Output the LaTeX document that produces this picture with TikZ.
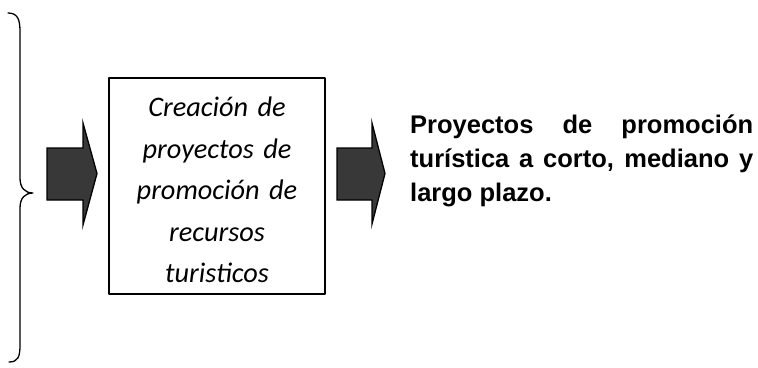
\documentclass[tikz,border=0pt]{standalone}
\usepackage{fontspec}
\newfontfamily\carlito{Carlito}
\newfontfamily\arial{Liberation Sans}
\usetikzlibrary{positioning}

\tikzset{
  blockarrow/.style={draw=black, fill=black!78, line width=1.3pt, line join=miter},
  boxtext/.style={font=\carlito\itshape\fontsize{28.3}{41.5}\selectfont},
  resulttext/.style={font=\arial\bfseries\fontsize{25.5}{34}\selectfont},
}

\begin{document}
\begin{tikzpicture}[x=1pt, y=-1pt, line join=round, line cap=round]
	\useasboundingbox (0,0) rectangle (758,367);
	% llave
	\draw[line width=1.3pt] (8,13) .. controls (18,13) and (20,20) .. (20,32) -- (20,178)
		.. controls (20,188) and (25,193) .. (33,193)
		.. controls (25,193) and (20,198) .. (20,208) -- (20,345)
		.. controls (20,357) and (18,362) .. (9,362);
	% flechas
	\coordinate (F1) at (47,148);
	\coordinate (F2) at (337,148);
	\draw[blockarrow] (F1) -- ++(36,0) -- ++(0,-25) -- ++(14,50.5) -- ++(-14,51.5) -- ++(0,-25) -- ++(-36,0) -- cycle;
	\draw[blockarrow] (F2) -- ++(35,0) -- ++(0,-25) -- ++(13,50.5) -- ++(-13,50.5) -- ++(0,-24) -- ++(-35,0) -- cycle;
	% cuadro
	\node[draw, line width=1.3pt, minimum width=216, minimum height=216, inner sep=0pt] (crea) at (217,186) {};
	\node[text width=210, align=center, inner sep=0pt, boxtext] (crea-txt) at ([yshift=-4pt]crea.center)
		{Creación de\\ proyectos de\\ promoción de\\ recursos\\ turisticos};
	% resultado
	\node[anchor=north west, inner sep=0pt, text width=343, align=justify, resulttext] (proy) at (410,115)
		{\hyphenpenalty=10000 Proyectos de promoción\linebreak turística a corto, mediano y\linebreak largo plazo.};
\end{tikzpicture}
\end{document}
